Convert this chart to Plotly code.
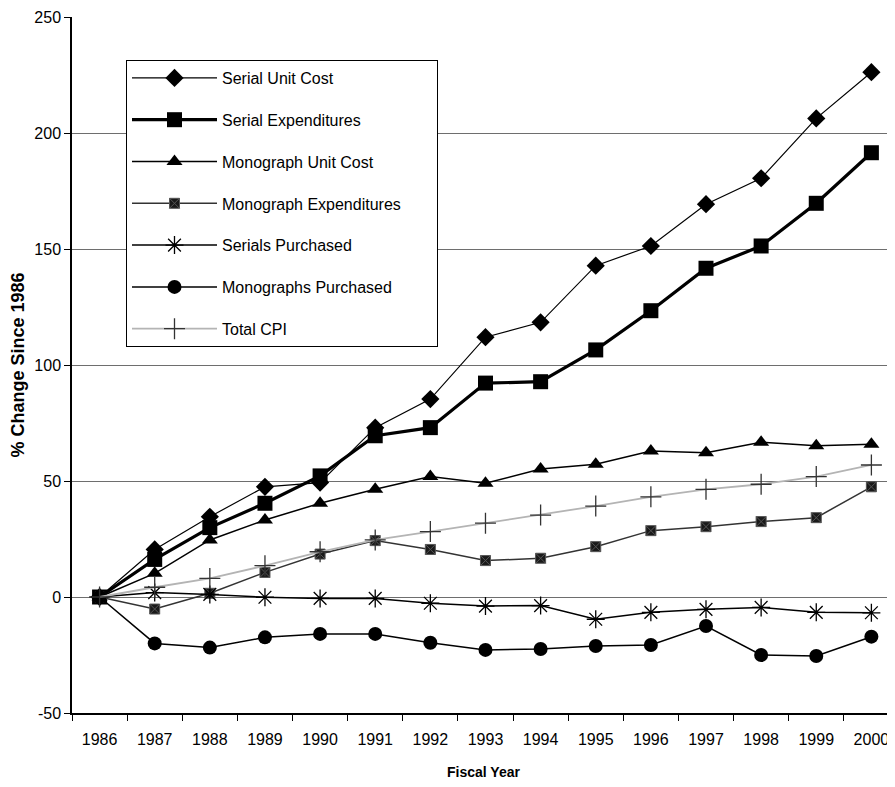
import plotly.graph_objects as go

years = ["1986", "1987", "1988", "1989", "1990", "1991", "1992", "1993",
         "1994", "1995", "1996", "1997", "1998", "1999", "2000"]

serial_unit_cost = [0, 20.5, 34.6, 47.5, 49.3, 73.0, 85.3, 112.0, 118.4, 142.8, 151.3, 169.3, 180.5, 206.3, 226.2]
serial_expenditures = [0, 16.2, 29.9, 40.4, 52.2, 69.5, 73.0, 92.2, 92.8, 106.5, 123.4, 141.7, 151.3, 169.7, 191.5]
monograph_unit_cost = [0, 10.2, 24.6, 33.2, 40.4, 46.4, 51.9, 49.0, 55.2, 57.2, 62.9, 62.2, 66.7, 65.2, 65.8]
monograph_expenditures = [0, -5.2, 1.6, 10.6, 18.5, 24.3, 20.5, 15.7, 16.7, 21.7, 28.6, 30.3, 32.5, 34.2, 47.5]
serials_purchased = [0, 1.9, 1.1, -0.1, -0.6, -0.6, -2.7, -3.9, -3.7, -9.6, -6.6, -5.3, -4.5, -6.6, -6.8]
monographs_purchased = [0, -20.0, -21.8, -17.4, -15.9, -15.9, -19.7, -22.8, -22.4, -21.1, -20.7, -12.5, -25.0, -25.4, -17.1]
total_cpi = [0, 4.2, 8.0, 13.5, 19.5, 24.6, 28.2, 31.8, 35.3, 39.2, 43.2, 46.4, 48.6, 51.9, 56.9]

y_tick_values = [-50, 0, 50, 100, 150, 200, 250]
y_tick_labels = ["-50", "0", "50", "100", "150", "200", "250"]

FONT = "Liberation Sans, Arial, sans-serif"
PAD = "\u00a0" * 7

series = [
    ("Serial Unit Cost", serial_unit_cost,
     dict(color="black", width=1.2), dict(symbol="diamond", size=14, color="black")),
    ("Serial Expenditures", serial_expenditures,
     dict(color="black", width=3.2), dict(symbol="square", size=15, color="black")),
    ("Monograph Unit Cost", monograph_unit_cost,
     dict(color="black", width=1.5), dict(symbol="triangle-up", size=14, color="black")),
    ("Monograph Expenditures" + PAD, monograph_expenditures,
     dict(color="#333333", width=1.5),
     dict(symbol="square-x", size=10, color="#1a1a1a", line=dict(color="#555555", width=1))),
    ("Serials Purchased", serials_purchased,
     dict(color="black", width=1.5),
     dict(symbol="asterisk-open", size=15, color="black", line=dict(color="black", width=1.3))),
    ("Monographs Purchased", monographs_purchased,
     dict(color="black", width=1.5), dict(symbol="circle", size=14, color="black")),
    ("Total CPI", total_cpi,
     dict(color="#b4b4b4", width=1.8),
     dict(symbol="cross-thin-open", size=15, color="#333333", line=dict(color="#333333", width=1.3))),
]

fig = go.Figure()
for i, (name, vals, line, marker) in enumerate(series):
    fig.add_trace(go.Scatter(
        x=years, y=vals, name=name, mode="lines+markers",
        line=line, marker=marker, legendgroup=f"g{i}",
    ))

# page has an 8px body margin; figure sized so it ends at the window edge
W, H = 887, 779
ml, mt, mb = 64, 9, 74
cat_w = 55.13
plot_w = W - ml
plot_h = H - mt - mb
x_max = -0.5 + plot_w / cat_w

fig.update_layout(
    width=W, height=H,
    margin=dict(l=ml, r=0, t=mt, b=mb, autoexpand=False),
    paper_bgcolor="white", plot_bgcolor="white",
    font=dict(family=FONT, size=16, color="black"),
    showlegend=True,
    legend=dict(
        x=(118 - ml) / plot_w, y=(H - mb - 52) / plot_h,
        xanchor="left", yanchor="top",
        bordercolor="black", borderwidth=1, bgcolor="white",
        font=dict(family=FONT, size=16, color="black"),
        traceorder="grouped", tracegroupgap=18,
        itemwidth=85,
    ),
    xaxis=dict(
        type="category", range=[-0.5, x_max], automargin=False,
        showline=True, linecolor="black", linewidth=1.5,
        ticks="outside", tickson="boundaries", ticklen=6, tickcolor="black",
        showgrid=False, zeroline=False,
        ticklabelstandoff=11,
        tickfont=dict(family=FONT, size=16),
        title=dict(text="<b>Fiscal Year</b>", font=dict(family=FONT, size=14), standoff=20),
    ),
    yaxis=dict(
        range=[-50, 250], tickmode="array", tickvals=y_tick_values, ticktext=y_tick_labels,
        automargin=False,
        showline=True, linecolor="black", linewidth=1.5,
        ticks="outside", ticklen=6, tickcolor="black",
        showgrid=True, gridcolor="#6e6e6e", gridwidth=1,
        zeroline=False,
        tickfont=dict(family=FONT, size=16),
        title=dict(text="<b>% Change Since 1986</b>", font=dict(family=FONT, size=18), standoff=12),
    ),
)

fig.write_html("out.html")
